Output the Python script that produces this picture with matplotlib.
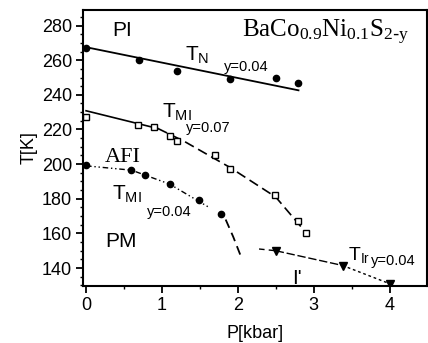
import numpy as np
import matplotlib.pyplot as plt
from matplotlib.ticker import MultipleLocator

plt.rcParams['font.family'] = ['Liberation Sans', 'DejaVu Sans']
plt.rcParams['mathtext.default'] = 'regular'

p_tn = [0.0, 0.7, 1.2, 1.9, 2.5, 2.8]
t_tn = [267.3, 260.0, 254.0, 249.4, 250.0, 247.0]

p_mi07 = [0.0, 0.69, 0.89, 1.1, 1.2, 1.7, 1.9, 2.49, 2.79, 2.9]
t_mi07 = [227.4, 222.8, 221.6, 216.0, 213.6, 205.5, 197.3, 182.3, 167.0, 160.0]

p_mi04 = [0.0, 0.59, 0.78, 1.1, 1.49, 1.78]
t_mi04 = [199.6, 196.8, 193.5, 188.7, 179.0, 171.3]

p_ir = [2.5, 3.38, 4.0]
t_ir = [150.0, 141.2, 130.8]

# guide lines
tn_line_p = [0.0, 2.8]
tn_line_t = [267.5, 242.6]
mi07_solid_p = [0.0, 0.95]
mi07_solid_t = [230.8, 220.5]
mi07_dash_p = [0.95, 1.3, 1.9, 2.5, 2.83]
mi07_dash_t = [220.5, 213.0, 198.0, 181.0, 164.0]
mi04_dot_p = [0.0, 0.6, 1.1, 1.63]
mi04_dot_t = [199.0, 196.5, 188.5, 174.8]
mi04_dash_p = [1.84, 1.94, 2.05]
mi04_dash_t = [168.0, 158.0, 145.7]
ir_dash_p = [2.28, 2.5]
ir_dash_t = [151.0, 150.0]
ir_solid_p = [2.5, 3.38]
ir_solid_t = [150.0, 141.5]
ir_dot_p = [3.38, 4.0]
ir_dot_t = [141.5, 131.0]

fig = plt.figure(figsize=(4.28, 3.43), dpi=100)
ax = fig.add_axes([0.194, 0.166, 0.803, 0.805])

k = 'black'
ax.plot(tn_line_p, tn_line_t, color=k, lw=1.3)
ax.plot(p_tn, t_tn, 'o', color=k, ms=4.5)

ax.plot(mi07_solid_p, mi07_solid_t, color=k, lw=1.2)
ax.plot(mi07_dash_p, mi07_dash_t, color=k, lw=1.2, ls=(0, (6, 3)))
ax.plot(p_mi07, t_mi07, 's', color=k, mfc='white', ms=4, mew=1)

ax.plot(mi04_dot_p, mi04_dot_t, color=k, lw=1, ls=(0, (4, 2, 1, 2, 1, 2)))
ax.plot(mi04_dash_p, mi04_dash_t, color=k, lw=1.3, ls=(0, (5, 3)))
ax.plot(p_mi04, t_mi04, 'o', color=k, ms=4.5)

ax.plot(ir_dash_p, ir_dash_t, color=k, lw=1, ls=(0, (4, 3)))
ax.plot(ir_solid_p, ir_solid_t, color=k, lw=1, ls=(0, (6, 2)))
ax.plot(ir_dot_p, ir_dot_t, color=k, lw=1, ls=(0, (2, 2)))
ax.plot(p_ir, t_ir, 'v', color=k, ms=6)

ax.set_xlim(-0.04, 4.49)
ax.set_ylim(129.6, 289)
ax.xaxis.set_major_locator(MultipleLocator(1))
ax.xaxis.set_minor_locator(MultipleLocator(0.5))
ax.yaxis.set_major_locator(MultipleLocator(20))
ax.yaxis.set_minor_locator(MultipleLocator(5))
ax.tick_params(which='major', direction='out', length=5, width=1.3,
               labelsize=13, pad=3)
ax.tick_params(which='minor', direction='out', length=2.5, width=1)
for s in ax.spines.values():
    s.set_linewidth(1.5)

ax.set_xlabel('P[kbar]', fontsize=13, labelpad=8)
ax.set_ylabel('T[K]', fontsize=13, labelpad=3)

ax.text(0.35, 274, 'PI', fontsize=15)
ax.text(1.3, 259.5, 'T$_{N}$', fontsize=15)
ax.text(1.82, 253.5, 'y=0.04', fontsize=10.5)
ax.text(2.05, 273, 'BaCo$_{0.9}$Ni$_{0.1}$S$_{2\\text{-}y}$',
        family='Liberation Serif', fontsize=18)
ax.text(1.0, 227, 'T$_{MI}$', fontsize=15)
ax.text(1.32, 218.7, 'y=0.07', fontsize=10.5)
ax.text(0.25, 201, 'AFI', family='Liberation Serif', fontsize=16)
ax.text(0.34, 179.4, 'T$_{MI}$', fontsize=15)
ax.text(0.8, 170, 'y=0.04', fontsize=10.5)
ax.text(0.25, 152, 'PM', fontsize=15)
ax.text(3.45, 144.5, 'T$_{Ir}$', fontsize=14)
ax.text(3.75, 142, 'y=0.04', fontsize=10.5)
ax.text(2.72, 131, "I'", fontsize=15)

fig.savefig('out.png', dpi=100)
